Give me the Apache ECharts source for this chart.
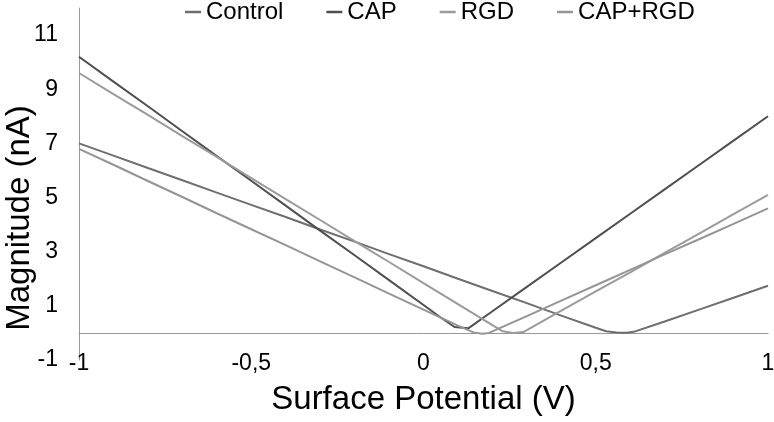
<!DOCTYPE html>
<html>
<head>
<meta charset="utf-8">
<script src="https://cdn.jsdelivr.net/npm/echarts@6/dist/echarts.min.js"></script>
<style>html,body{margin:0;padding:0;background:#fff}#c{width:774px;height:422px}</style>
</head>
<body>
<div id="c"></div>
<script>
const seriesNames = ['Control', 'CAP', 'RGD', 'CAP+RGD'];
const xTickLabels = ['-1', '-0,5', '0', '0,5', '1'];
const yTickLabels = ['-1', '1', '3', '5', '7', '9', '11'];

const controlData = [[-1,7.0],[-0.9,6.55],[-0.8,6.09],[-0.7,5.64],[-0.6,5.18],[-0.5,4.73],[-0.4,4.28],[-0.3,3.82],[-0.2,3.37],[-0.1,2.91],[0,2.46],[0.1,2.0],[0.2,1.55],[0.3,1.1],[0.4,0.64],[0.5,0.19],[0.53,0.06],[0.56,0.02],[0.59,0.01],[0.61,0.04],[0.7,0.42],[0.8,0.86],[0.9,1.3],[1,1.74]];
const capData = [[-1,10.2],[-0.9,9.28],[-0.8,8.37],[-0.7,7.45],[-0.6,6.53],[-0.5,5.62],[-0.4,4.7],[-0.3,3.78],[-0.2,2.87],[-0.1,1.95],[0,1.03],[0.05,0.57],[0.09,0.22],[0.13,0.17],[0.2,0.8],[0.3,1.7],[0.4,2.6],[0.5,3.5],[0.6,4.4],[0.7,5.3],[0.8,6.2],[0.9,7.1],[1,8.0]];
const rgdData = [[-1,9.6],[-0.9,8.82],[-0.8,8.05],[-0.7,7.27],[-0.6,6.5],[-0.5,5.72],[-0.4,4.94],[-0.3,4.17],[-0.2,3.39],[-0.1,2.62],[0,1.84],[0.1,1.06],[0.2,0.29],[0.23,0.06],[0.26,0.0],[0.29,0.03],[0.3,0.1],[0.4,0.82],[0.5,1.53],[0.6,2.24],[0.7,2.96],[0.8,3.67],[0.9,4.39],[1,5.1]];
const capRgdData = [[-1,6.8],[-0.9,6.21],[-0.8,5.61],[-0.7,5.02],[-0.6,4.42],[-0.5,3.83],[-0.4,3.24],[-0.3,2.64],[-0.2,2.05],[-0.1,1.45],[0,0.86],[0.1,0.27],[0.145,0.02],[0.17,-0.03],[0.19,0.0],[0.2,0.06],[0.3,0.62],[0.4,1.19],[0.5,1.76],[0.6,2.33],[0.7,2.9],[0.8,3.46],[0.9,4.03],[1,4.6]];

const colors = ['#6e6e6e', '#4f4f4f', '#9b9b9b', '#959595'];
const allData = [controlData, capData, rgdData, capRgdData];
const font = '"Liberation Sans", Arial, sans-serif';

const chart = echarts.init(document.getElementById('c'), null, {renderer: 'canvas'});
chart.setOption({
  animation: false,
  backgroundColor: '#fff',
  color: colors,
  textStyle: {fontFamily: font, color: '#000'},
  legend: {
    data: seriesNames,
    left: 185, top: 0, padding: 0,
    icon: 'rect', itemWidth: 16, itemHeight: 2.5, itemGap: 43,
    textStyle: {fontSize: 24, color: '#000', fontFamily: font}
  },
  grid: {left: 79, right: 6, top: 8, bottom: 62, containLabel: false, outerBoundsMode: 'none'},
  xAxis: {
    type: 'value', min: -1, max: 1, interval: 0.5,
    name: 'Surface Potential (V)', nameLocation: 'middle', nameGap: 23, nameMoveOverlap: false,
    nameTextStyle: {fontSize: 33, color: '#000', fontFamily: font},
    axisLine: {onZero: true, lineStyle: {color: '#999', width: 1}},
    axisTick: {show: false},
    splitLine: {show: false},
    axisLabel: {
      fontSize: 23, color: '#000', margin: -8, fontFamily: font,
      formatter: function (v) {
        const i = Math.round((v + 1) / 0.5);
        return xTickLabels[i] !== undefined ? xTickLabels[i] : '';
      }
    }
  },
  yAxis: {
    type: 'value', min: -1, max: 12, interval: 1,
    name: 'Magnitude (nA)', nameLocation: 'middle', nameGap: 43, nameMoveOverlap: false,
    nameTextStyle: {fontSize: 33, color: '#000', fontFamily: font, padding: [0, 68, 0, 0]},
    axisLine: {show: true, onZero: false, lineStyle: {color: '#999', width: 1}},
    axisTick: {show: false},
    splitLine: {show: false},
    axisLabel: {
      fontSize: 23, color: '#000', margin: 21, fontFamily: font,
      formatter: function (v) {
        const s = String(Math.round(v));
        return yTickLabels.indexOf(s) >= 0 ? s : '';
      }
    }
  },
  series: seriesNames.map((n, i) => ({
    name: n, type: 'line', data: allData[i], showSymbol: false, symbol: 'none',
    lineStyle: {width: 2, color: colors[i]}, itemStyle: {color: colors[i]}
  }))
});
</script>
</body>
</html>
